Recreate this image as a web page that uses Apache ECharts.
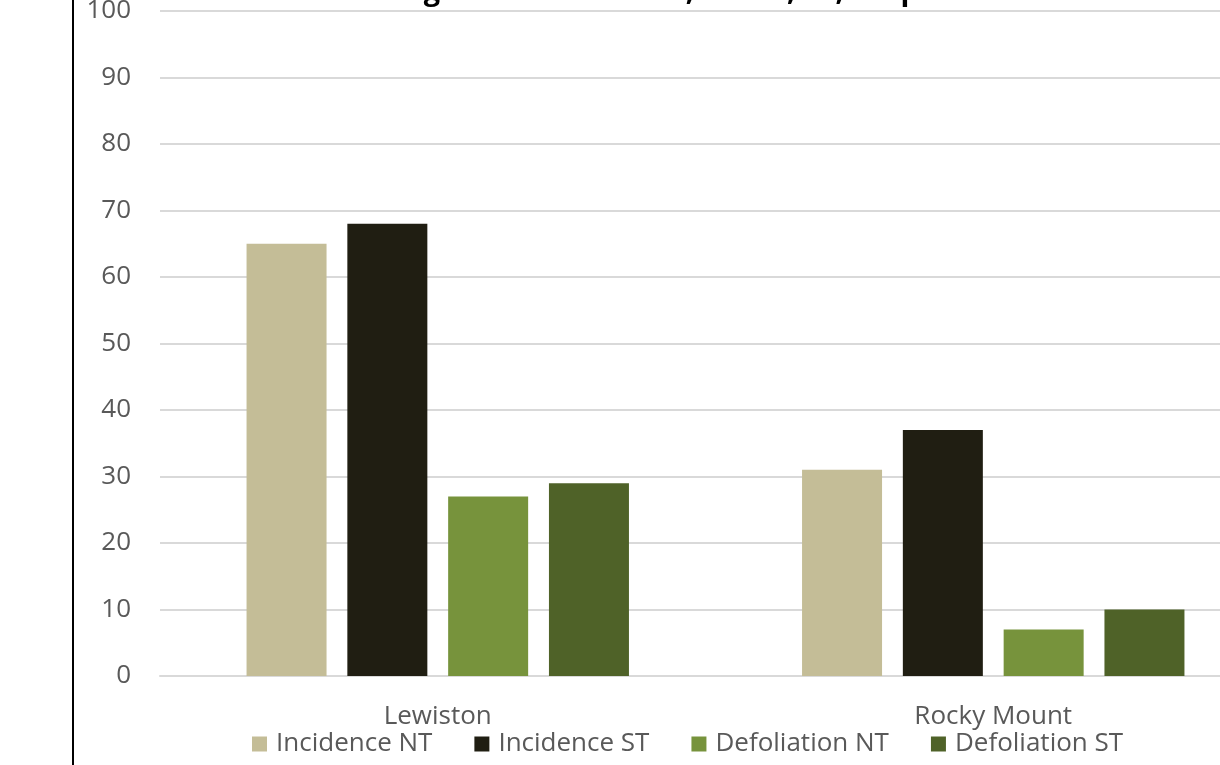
<!DOCTYPE html>
<html>
<head>
<meta charset="utf-8">
<script src="https://cdn.jsdelivr.net/npm/echarts@6/dist/echarts.min.js"></script>
<style>
  html, body { margin: 0; padding: 0; background: #fff; overflow: hidden; }
  #chart { width: 1220px; height: 765px; }
</style>
</head>
<body>
<div id="chart"></div>
<script>
// Locations and tillage treatments
const locations = ['Lewiston', 'Rocky Mount'];
const seriesNames = ['Incidence NT', 'Incidence ST', 'Defoliation NT', 'Defoliation ST'];
const seriesColors = ['#c4bd97', '#201e12', '#77933c', '#4f6228'];

// Percent values per location
const incidenceNT = [65, 31];
const incidenceST = [68, 37];
const defoliationNT = [27, 7];
const defoliationST = [29, 10];
const seriesValues = [incidenceNT, incidenceST, defoliationNT, defoliationST];

const yTicks = { min: 0, max: 100, interval: 10 };
const titleText = 'Tillage treatments: NT, no-till, ST, strip-till';

const FONT = 'Open Sans';
const chart = echarts.init(document.getElementById('chart'), null, { renderer: 'canvas' });

chart.setOption({
  animation: false,
  backgroundColor: '#ffffff',
  textStyle: { fontFamily: FONT },
  title: {
    text: titleText,
    left: 358,
    top: -28,
    textStyle: { fontFamily: FONT, fontSize: 29, fontWeight: 'bold', color: '#000000' }
  },
  // plot area runs past the right edge of the canvas
  grid: { left: 160, width: 1111, top: 11, height: 665, containLabel: false, outerBoundsMode: 'none' },
  legend: {
    data: seriesNames,
    left: 247,
    top: 726,
    itemWidth: 15,
    itemHeight: 15,
    itemGap: 42,
    icon: 'rect',
    textStyle: { fontFamily: FONT, fontSize: 26, color: '#595959', padding: [0, 0, 0, 4] }
  },
  xAxis: {
    type: 'category',
    data: locations,
    axisTick: { show: false },
    axisLine: { show: true, lineStyle: { color: '#d9d9d9', width: 2 } },
    axisLabel: { margin: 28, fontFamily: FONT, fontSize: 26, color: '#595959' }
  },
  yAxis: {
    type: 'value',
    min: yTicks.min,
    max: yTicks.max,
    interval: yTicks.interval,
    axisLine: { show: false },
    axisTick: { show: false },
    splitLine: { lineStyle: { color: '#d9d9d9', width: 2 } },
    axisLabel: { margin: 29, fontFamily: FONT, fontSize: 26, color: '#595959' }
  },
  series: seriesNames.map((name, i) => ({
    name: name,
    type: 'bar',
    data: seriesValues[i],
    barWidth: 80,
    barGap: '26%',
    itemStyle: { color: seriesColors[i] }
  })),
  graphic: [{
    type: 'line',
    shape: { x1: 73, y1: 0, x2: 73, y2: 765 },
    style: { stroke: '#000000', lineWidth: 2 },
    z: 100
  }]
});
</script>
</body>
</html>
